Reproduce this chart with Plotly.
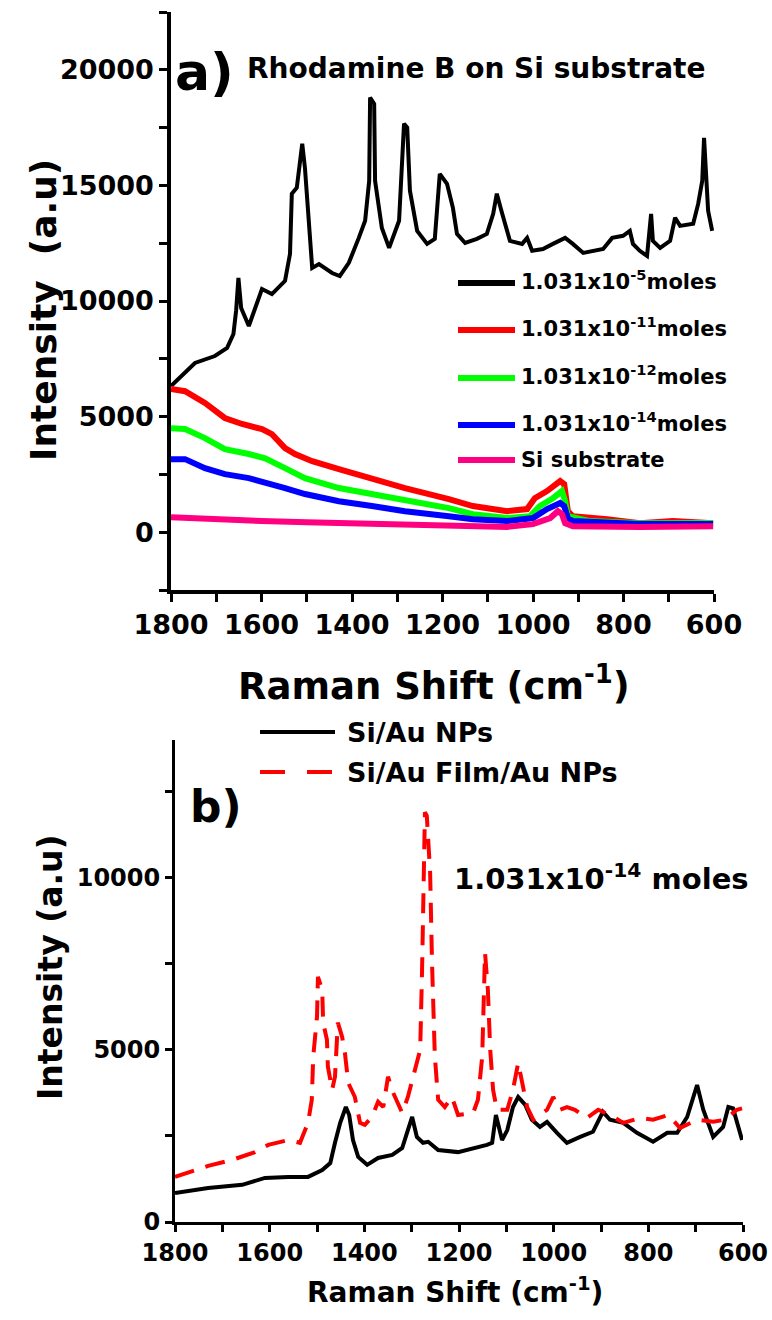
import plotly.graph_objects as go

# ---------------- Panel a) data (Raman shift cm-1, intensity a.u.) ----------------
rb5_shift = [1800, 1769, 1747, 1703, 1676, 1662, 1656, 1651, 1645, 1628, 1615, 1599, 1577, 1548, 1537, 1533,
             1522, 1510, 1504, 1495, 1488, 1473, 1444, 1427, 1407, 1385, 1371, 1362, 1360, 1351, 1349, 1334,
             1318, 1296, 1285, 1278, 1272, 1256, 1234, 1217, 1206, 1190, 1177, 1168, 1150, 1124, 1102, 1088,
             1080, 1068, 1051, 1024, 1013, 1002, 978, 956, 929, 912, 889, 845, 825, 801, 786, 779, 764, 748,
             739, 735, 719, 697, 686, 675, 646, 635, 626, 622, 618, 613, 604]
rb5_int = [6320, 6880, 7320, 7620, 7970, 8570, 9600, 11000, 9700, 8920, 9600, 10520, 10300, 10870, 12040, 14640,
           14900, 16800, 15760, 13160, 11430, 11600, 11210, 11080, 11650, 12730, 13470, 15200, 18800, 18530, 15200, 13160,
           12300, 13470, 17670, 17500, 14770, 13030, 12470, 12690, 15500, 15070, 14030, 12900, 12510, 12690, 12900, 13770,
           14640, 13770, 12600, 12470, 12730, 12170, 12250, 12470, 12730, 12470, 12080, 12250, 12730, 12820, 13030, 12470, 12170, 11950,
           13770, 12600, 12300, 12600, 13600, 13250, 13340, 14200, 15200, 17060, 15760, 13900, 13030]

rb11_shift = [1800, 1769, 1725, 1681, 1643, 1599, 1577, 1548, 1526, 1488, 1429, 1356, 1283, 1186, 1133, 1057,
              1013, 996, 969, 940, 931, 923, 912, 836, 764, 691, 602]
rb11_int = [6190, 6100, 5590, 4940, 4680, 4460, 4240, 3640, 3380, 3070, 2730, 2300, 1910, 1430, 1130, 910,
            1000, 1470, 1780, 2210, 2080, 910, 690, 560, 390, 480, 390]

rb12_shift = [1800, 1769, 1725, 1681, 1628, 1592, 1548, 1504, 1429, 1356, 1283, 1186, 1133, 1057, 1007, 985,
              956, 936, 929, 923, 874, 764, 602]
rb12_int = [4500, 4460, 4070, 3590, 3380, 3200, 2770, 2340, 1910, 1650, 1340, 1040, 780, 610, 690, 1130,
            1470, 1780, 1340, 690, 480, 390, 400]

rb14_shift = [1800, 1769, 1725, 1681, 1628, 1583, 1548, 1504, 1429, 1356, 1283, 1186, 1133, 1057, 1000, 969,
              940, 931, 923, 912, 764, 602]
rb14_int = [3160, 3160, 2770, 2510, 2340, 2120, 1910, 1650, 1340, 1130, 910, 690, 560, 480, 610, 1000,
            1260, 1130, 610, 480, 350, 350]

si_shift = [1800, 1750, 1700, 1600, 1500, 1400, 1300, 1200, 1100, 1057, 1000, 962, 945, 936, 929, 912, 764, 602]
si_int = [650, 600, 550, 480, 430, 400, 350, 290, 250, 230, 350, 610, 910, 780, 390, 260, 220, 260]

# ---------------- Panel b) data ----------------
np_shift = [1800, 1730, 1658, 1610, 1561, 1519, 1489, 1472, 1462, 1451, 1439, 1432, 1424, 1413, 1394, 1371,
            1341, 1320, 1308, 1299, 1289, 1276, 1265, 1244, 1202, 1166, 1141, 1130, 1122, 1109, 1098, 1086,
            1075, 1060, 1046, 1029, 1014, 993, 972, 944, 917, 896, 881, 853, 824, 790, 760, 739, 718, 697,
            684, 663, 642, 631, 621, 602]
np_int = [840, 990, 1080, 1280, 1310, 1310, 1510, 1710, 2300, 2880, 3340, 3110, 2380, 1890, 1660, 1860,
          1950, 2150, 2670, 3050, 2470, 2300, 2330, 2090, 2030, 2150, 2240, 2300, 3110, 2380, 2670, 3340,
          3630, 3400, 2970, 2760, 2910, 2590, 2300, 2470, 2620, 3200, 2970, 2880, 2590, 2330, 2590, 2590, 3050, 3980,
          3260, 2470, 2760, 3340, 3300, 2380]

film_shift = [1800, 1758, 1730, 1680, 1631, 1603, 1561, 1536, 1519, 1511, 1508, 1500, 1498, 1489, 1487, 1479,
              1477, 1468, 1462, 1456, 1447, 1441, 1434, 1420, 1409, 1399, 1384, 1371, 1360, 1350, 1339, 1320,
              1308, 1293, 1282, 1278, 1276, 1272, 1268, 1261, 1257, 1255, 1251, 1244, 1230, 1215, 1202, 1170,
              1160, 1151, 1149, 1145, 1139, 1134, 1128, 1120, 1098, 1086, 1075, 1067, 1056, 1043, 1014, 1001,
              987, 972, 955, 930, 906, 881, 853, 817, 790, 758, 733, 697, 663, 638, 613, 602]
film_int = [1310, 1510, 1630, 1800, 2030, 2240, 2380, 2300, 2880, 3550, 4800, 5960, 7120, 6740, 5790, 5290,
            4510, 3840, 4220, 5790, 5380, 4910, 4040, 3630, 2880, 2820, 3050, 3490, 3340, 4220, 3750, 3170,
            3630, 4420, 5000, 7330, 8870, 11900, 11800, 10150, 7530, 6160, 4800, 3550, 3340, 3630, 3110, 3170,
            3550, 4800, 6250, 7820, 6740, 5000, 3840, 3260, 3260, 3840, 4620, 4130, 3340, 2970, 3260, 3630,
            3260, 3340, 3260, 3020, 3260, 3110, 2880, 3020, 2970, 3110, 2730, 2970, 2910, 2970, 3260, 3300]

top_xticks = [1800, 1600, 1400, 1200, 1000, 800, 600]
top_yticks = [0, 5000, 10000, 15000, 20000]
bot_yticks = [0, 5000, 10000]

FONT = "DejaVu Sans"
W, H = 772, 1320


def px(x):
    return x / W


def py(y):
    return 1 - y / H


fig = go.Figure()

for xs, ys, col, w in [
    (rb5_shift, rb5_int, "#000000", 4),
    (rb11_shift, rb11_int, "#ff0000", 6),
    (rb12_shift, rb12_int, "#00ff00", 6),
    (rb14_shift, rb14_int, "#0000ff", 6),
    (si_shift, si_int, "#ff0080", 6),
]:
    fig.add_trace(go.Scatter(x=xs, y=ys, mode="lines", line=dict(color=col, width=w),
                             xaxis="x", yaxis="y", showlegend=False))

fig.add_trace(go.Scatter(x=np_shift, y=np_int, mode="lines", line=dict(color="#000000", width=4),
                         xaxis="x2", yaxis="y2", showlegend=False))
fig.add_trace(go.Scatter(x=film_shift, y=film_int, mode="lines",
                         line=dict(color="#ff0000", width=4, dash="20px,12px"),
                         xaxis="x2", yaxis="y2", showlegend=False))

axis_common = dict(showline=True, linecolor="black", showgrid=False, zeroline=False,
                   ticks="outside", tickcolor="black", mirror=False, automargin=False,
                   tickformat="d")

fig.update_layout(
    width=W, height=H,
    margin=dict(l=0, r=0, t=0, b=0),
    paper_bgcolor="white", plot_bgcolor="white",
    xaxis=dict(domain=[px(171), px(714)], range=[1800, 600], tickvals=top_xticks,
               ticklen=8, tickwidth=3, linewidth=3.5,
               minor=dict(dtick=100, ticks="outside", ticklen=8, tickwidth=3, tickcolor="black"),
               tickfont=dict(family=FONT, size=27, color="black", weight="bold"),
               anchor="y", **axis_common),
    yaxis=dict(domain=[py(590), py(12)], range=[-2500, 22500], tickvals=top_yticks,
               ticklen=8, tickwidth=3, linewidth=3.5,
               minor=dict(dtick=2500, tick0=0, ticks="outside", ticklen=8, tickwidth=3, tickcolor="black"),
               tickfont=dict(family=FONT, size=27, color="black", weight="bold"),
               anchor="x", **axis_common),
    xaxis2=dict(domain=[px(175), px(743)], range=[1800, 600], tickvals=top_xticks,
                ticklen=7, tickwidth=2.5, linewidth=3,
                minor=dict(dtick=100, ticks="outside", ticklen=7, tickwidth=2.5, tickcolor="black"),
                tickfont=dict(family=FONT, size=24, color="black", weight="bold"),
                anchor="y2", **axis_common),
    yaxis2=dict(domain=[py(1222), py(740)], range=[0, 14000], tickvals=bot_yticks,
                ticklen=7, tickwidth=2.5, linewidth=3,
                minor=dict(dtick=2500, tick0=0, ticks="outside", ticklen=7, tickwidth=2.5, tickcolor="black"),
                tickfont=dict(family=FONT, size=24, color="black", weight="bold"),
                anchor="x2", **axis_common),
)

ann = []


def text(x, y, s, size, xanchor="center", yanchor="middle", angle=0):
    ann.append(dict(x=px(x), y=py(y), xref="paper", yref="paper", text=s, showarrow=False,
                    xanchor=xanchor, yanchor=yanchor, textangle=angle,
                    font=dict(family=FONT, size=size, color="black", weight="bold")))


# panel a texts
text(204, 72, "a)", 52)
text(245, 68, "Rhodamine B on Si substrate", 28, xanchor="left")
text(434, 683, "Raman Shift (cm<sup>-1</sup>)", 37)
text(43, 310, "Intensity  (a.u)", 36, angle=-90)

legend_a = [
    ("1.031x10<sup>-5</sup>moles", "#000000", 283),
    ("1.031x10<sup>-11</sup>moles", "#ff0000", 330),
    ("1.031x10<sup>-12</sup>moles", "#00ff00", 378),
    ("1.031x10<sup>-14</sup>moles", "#0000ff", 425),
    ("Si substrate", "#ff0080", 460),
]
shapes = []
for lab, col, yy in legend_a:
    shapes.append(dict(type="line", xref="paper", yref="paper", x0=px(458), x1=px(515),
                       y0=py(yy), y1=py(yy), line=dict(color=col, width=6)))
    text(519, yy - 3 if "sup" in lab else yy, lab, 21, xanchor="left")

# panel b texts
text(216, 806, "b)", 44)
text(452, 877, "1.031x10<sup>-14</sup> moles", 29, xanchor="left")
text(455, 1290, "Raman Shift (cm<sup>-1</sup>)", 28)
text(50, 967, "Intensity (a.u)", 33, angle=-90)

shapes.append(dict(type="line", xref="paper", yref="paper", x0=px(260), x1=px(335),
                   y0=py(732), y1=py(732), line=dict(color="black", width=4)))
shapes.append(dict(type="line", xref="paper", yref="paper", x0=px(260), x1=px(335),
                   y0=py(772), y1=py(772), line=dict(color="#ff0000", width=4, dash="25px,22px")))
text(345, 732, "Si/Au NPs", 27, xanchor="left")
text(345, 772, "Si/Au Film/Au NPs", 27, xanchor="left")

fig.update_layout(annotations=ann, shapes=shapes)

fig.write_html("out.html")
